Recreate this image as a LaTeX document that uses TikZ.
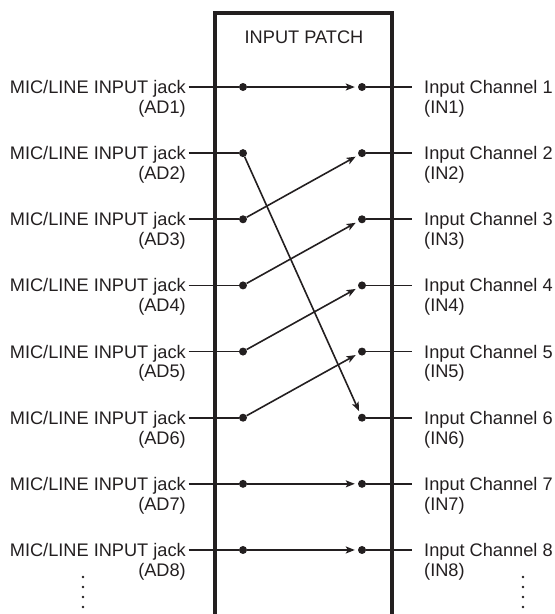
\documentclass[tikz,border=0pt]{standalone}
\usepackage{fontspec}
\setmainfont{Liberation Sans}
\usepackage{tikz}
\usetikzlibrary{arrows.meta,positioning}
\definecolor{PatchInk}{HTML}{231F20}

\begin{document}
\begin{tikzpicture}[x=1pt, y=-1pt, every node/.style={font=\fontsize{18.2}{21}\selectfont, text=PatchInk, inner sep=0pt, text height=13pt, text depth=0pt},
  boxline/.style={line width=3.4pt, draw=PatchInk},
  wire/.style={line width=1.6pt, draw=PatchInk},
  patch/.style={wire, -{Stealth[length=9pt, width=7pt, inset=2pt]}, shorten >=3pt},
  pdot/.style={circle, fill=PatchInk, minimum size=8pt, text height=, text depth=}]
\useasboundingbox (0,0) rectangle (555,614);
% patch frame, open at the bottom
\coordinate (fbl) at (215,614);
\coordinate (ftl) at (215,13);
\coordinate (ftr) at (392,13);
\coordinate (fbr) at (392,614);
\draw[boxline] (fbl) -- (ftl) -- (ftr) -- (fbr);
\node (title) at (304,36.5) {INPUT PATCH};
% rows of jacks and channels
\foreach \i in {1,...,8}{
  \pgfmathsetmacro{\y}{87+66.14*(\i-1)}
  \node[anchor=east] (ad\i) at (186,\y) {MIC/LINE INPUT jack};
  \node[below=6.5pt of ad\i.south east, anchor=north east] (adn\i) {(AD\i)};
  \node[pdot] (l\i) at (243,\y) {};
  \node[pdot] (r\i) at (362,\y) {};
  \coordinate (re\i) at (412,\y);
  \node[anchor=west] (in\i) at (424,\y) {Input Channel \i};
  \node[below=6.5pt of in\i.south west, anchor=north west] (inn\i) {(IN\i)};
  \draw[wire, shorten <=2.5pt] (ad\i) -- (l\i);
  \draw[wire] (r\i) -- (re\i);
}
% patch assignments
\draw[patch] (l1) -- (r1);
\draw[patch] (l2) -- (r6);
\draw[patch] (l3) -- (r2);
\draw[patch] (l4) -- (r3);
\draw[patch] (l5) -- (r4);
\draw[patch] (l6) -- (r5);
\draw[patch] (l7) -- (r7);
\draw[patch] (l8) -- (r8);
% continuation dots
\foreach \v in {577,587,597,607}{
  \fill[PatchInk] (83,\v) circle (1.3);
  \fill[PatchInk] (523,\v) circle (1.3);
}
\end{tikzpicture}
\end{document}
